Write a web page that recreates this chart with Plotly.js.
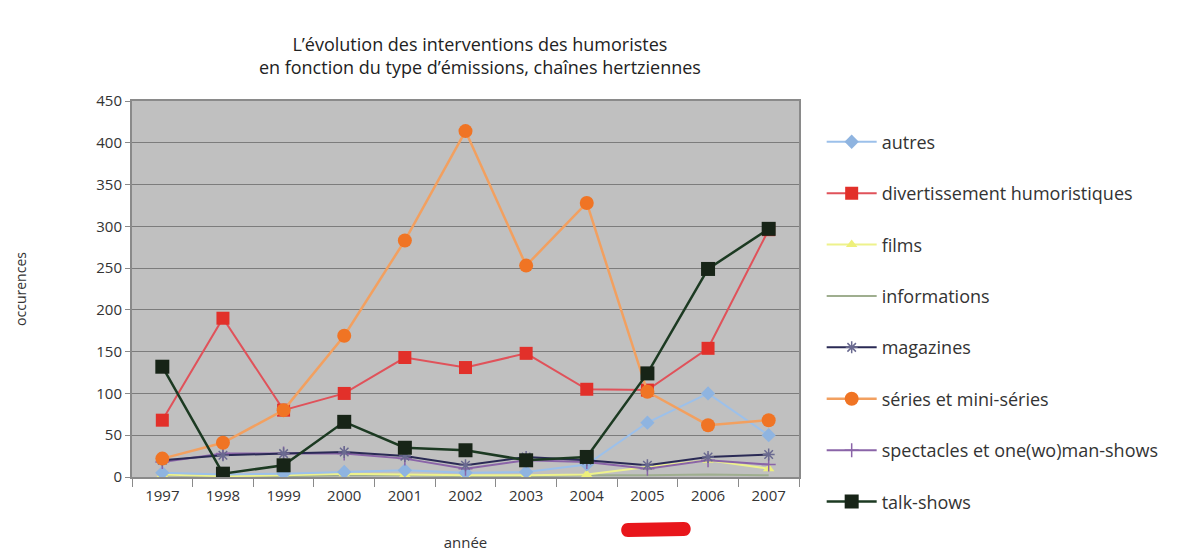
<!DOCTYPE html>
<html>
<head>
<meta charset="utf-8">
<script src="https://cdn.plot.ly/plotly-3.0.1.min.js"></script>
<style>html,body{margin:0;padding:0;background:#fff;}#chart{width:1185px;height:552px;}</style>
</head>
<body>
<div id="chart"></div>
<script>
// ---- data ----
const years = ['1997','1998','1999','2000','2001','2002','2003','2004','2005','2006','2007'];
const autres         = [5, 3, 4, 6, 8, 5, 6, 15, 65, 100, 50];
const divertissement = [68, 190, 80, 100, 143, 131, 148, 105, 104, 154, 296];
const films          = [3, 1, 2, 4, 3, 2, 2, 3, 12, 20, 10];
const informations   = [2, 1, 1, 2, 2, 1, 1, 2, 2, 3, 2];
const magazines      = [20, 26, 28, 30, 25, 14, 24, 20, 14, 24, 27];
const series         = [22, 41, 80, 169, 283, 414, 253, 328, 102, 62, 68];
const spectacles     = [18, 28, 28, 28, 22, 10, 20, 18, 10, 20, 15];
const talkshows      = [132, 4, 14, 66, 35, 32, 20, 24, 124, 249, 297];

const seriesNames = ['autres','divertissement humoristiques','films','informations','magazines','séries et mini-séries','spectacles et one(wo)man-shows','talk-shows'];

// ---- styles ----
const FONT = '"Open Sans", Lato, sans-serif';
const styles = [
  {line:'#9cc0ea', marker:'#8fb4e0', symbol:'diamond', size:11, width:2},
  {line:'#e0525a', marker:'#e2302a', symbol:'square', size:13, width:2},
  {line:'#eef28c', marker:'#eef07a', symbol:'triangle-up', size:10, width:2},
  {line:'#9fae8f', marker:'#9fae8f', symbol:'line-ew', size:1, width:2},
  {line:'#2a2a55', marker:'#6a6a90', symbol:'asterisk-open', size:10, width:2},
  {line:'#f2a060', marker:'#f07424', symbol:'circle', size:14, width:2.5},
  {line:'#8a64a8', marker:'#8a64a8', symbol:'cross-thin-open', size:10, width:2},
  {line:'#1c3a22', marker:'#172417', symbol:'square', size:14, width:2.5}
];
const values = [autres, divertissement, films, informations, magazines, series, spectacles, talkshows];

const traces = values.map((v,i)=>({
  type:'scatter', mode: i===3 ? 'lines' : 'lines+markers',
  x: years, y: v, name: seriesNames[i], legendgroup: 'g'+i, legendrank: i+1,
  line:{color:styles[i].line, width:styles[i].width},
  marker:{color:styles[i].marker, symbol:styles[i].symbol, size:styles[i].size,
          line:{color:styles[i].marker, width: (i===4||i===6)?1.5:0}},
  hoverinfo:'x+y+name'
}));
// draw order: put orange and talk-shows on top like the reference
const order = [3,2,0,6,4,1,5,7];
const drawTraces = order.map(i=>traces[i]);

// pixel helpers for decoration
const L=132, R=799, T=101, B=477;
const px = x => (x-L)/(R-L);
const py = y => (B-y)/(B-T);

// red highlight scribble under 2005/2006 (decoration)
const r = 7;
const x0=621, x1=691, yc=530;
const scribble = `M ${px(x0+r)},${py(yc-r)} L ${px(x1-r)},${py(yc-r-1)} C ${px(x1+2)},${py(yc-r-1)} ${px(x1+2)},${py(yc+r-1)} ${px(x1-r)},${py(yc+r-1)} L ${px(x0+r)},${py(yc+r)} C ${px(x0-2)},${py(yc+r)} ${px(x0-2)},${py(yc-r)} ${px(x0+r)},${py(yc-r)} Z`;

const layout = {
  width:1185, height:552,
  paper_bgcolor:'#ffffff', plot_bgcolor:'#c0c0c0',
  margin:{l:L, r:1185-R, t:T, b:552-B, pad:0},
  font:{family:FONT, size:15, color:'#333333'},
  title:{text:"L’évolution des interventions des humoristes<br>en fonction du type d’émissions, chaînes hertziennes",
         font:{family:FONT, size:18, color:'#222222'}, x:0.405, xanchor:'center', y:0.908, yanchor:'middle'},
  showlegend:true,
  legend:{x:1.034, xanchor:'left', y:0.94, yanchor:'top', traceorder:'grouped', tracegroupgap:25,
          maxheight:520,
          font:{family:FONT, size:18, color:'#333333'}, bgcolor:'rgba(0,0,0,0)', itemwidth:50},
  xaxis:{type:'category', range:[-0.5,10.5], showgrid:false, zeroline:false,
         showline:true, linecolor:'#8a8a8a', linewidth:2, mirror:true,
         ticks:'outside', tickson:'boundaries', ticklen:8, tickcolor:'#8a8a8a', ticklabelstandoff:4,
         tickfont:{family:FONT, size:15, color:'#333333'},
         title:{text:'année', font:{family:FONT, size:15, color:'#333333'}, standoff:33}},
  yaxis:{range:[0,450], dtick:50, showgrid:true, gridcolor:'#7c7c7c', gridwidth:1, zeroline:false,
         showline:true, linecolor:'#8a8a8a', linewidth:2, mirror:true,
         ticks:'outside', ticklen:5, tickcolor:'#8a8a8a',
         tickfont:{family:FONT, size:15, color:'#333333'},
         title:{text:'occurences', font:{family:FONT, size:14, color:'#333333'}, standoff:66}},
  shapes:[{type:'path', xref:'paper', yref:'paper', path:scribble, fillcolor:'#e8161b', line:{width:0}}]
};

Plotly.newPlot('chart', drawTraces, layout, {displayModeBar:false, staticPlot:true});
</script>
</body>
</html>
